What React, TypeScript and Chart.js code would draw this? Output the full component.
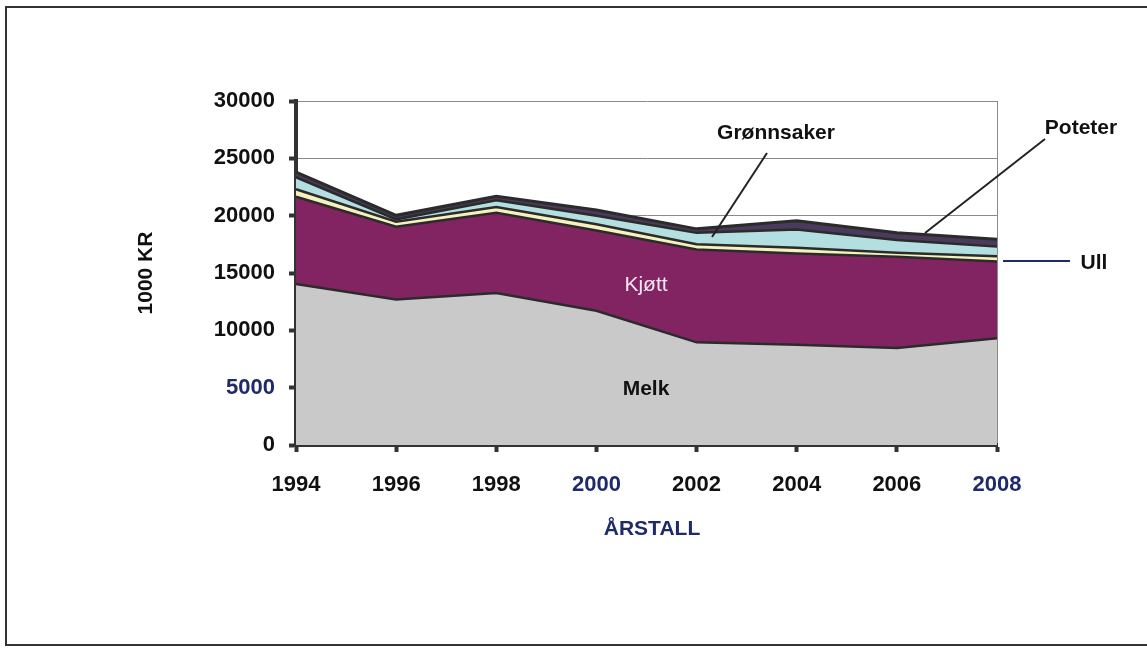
import React, { useEffect, useRef } from "react";
import { Chart, registerables } from "chart.js";

Chart.register(...registerables);

const years = ["1994", "1996", "1998", "2000", "2002", "2004", "2006", "2008"];
const melk = [14050, 12700, 13250, 11700, 8950, 8750, 8450, 9300];
const kjott = [7600, 6330, 7000, 7000, 8100, 7950, 7970, 6700];
const ull = [650, 450, 500, 550, 450, 500, 350, 450];
const gronnsaker = [1050, 200, 600, 750, 1000, 1600, 1100, 850];
const poteter = [450, 350, 350, 500, 350, 750, 650, 650];
const yTicks = [0, 5000, 10000, 15000, 20000, 25000, 30000];

const FONT = '"Liberation Sans", Arial, Helvetica, sans-serif';
const NAVY = "#1f2a6b";
const DARK = "#2b2b2b";

const annotations = {
  id: "annotations",
  afterDatasetsDraw(chart: any) {
    const c = chart.ctx;
    c.save();
    c.textAlign = "center";
    c.textBaseline = "middle";
    // Melk
    c.fillStyle = "#111";
    c.font = `bold 21px ${FONT}`;
    c.fillText("Melk", 646, 389);
    // Kjøtt
    c.fillStyle = "#f4e6f2";
    c.font = `21px ${FONT}`;
    c.fillText("Kjøtt", 646, 285);
    // Grønnsaker
    c.fillStyle = "#111";
    c.font = `bold 21px ${FONT}`;
    c.fillText("Grønnsaker", 776, 133);
    c.strokeStyle = "#222";
    c.lineWidth = 2;
    c.beginPath();
    c.moveTo(767, 153);
    c.lineTo(712, 237);
    c.stroke();
    // Poteter
    c.fillText("Poteter", 1081, 128);
    c.beginPath();
    c.moveTo(1045, 139);
    c.lineTo(925, 233);
    c.stroke();
    // Ull
    c.fillText("Ull", 1094, 263);
    c.strokeStyle = NAVY;
    c.beginPath();
    c.moveTo(1003, 261);
    c.lineTo(1070, 261);
    c.stroke();
    // axis titles
    c.fillStyle = "#111";
    c.font = `bold 21px ${FONT}`;
    c.save();
    c.translate(146, 273);
    c.rotate(-Math.PI / 2);
    c.fillText("1000 KR", 0, 0);
    c.restore();
    c.fillStyle = NAVY;
    c.font = `bold 21px ${FONT}`;
    c.fillText("ÅRSTALL", 652, 529);
    c.restore();
  },
};

export default function App() {
  const ref = useRef<HTMLCanvasElement | null>(null);
  useEffect(() => {
    if (!ref.current) return;
    const common = { pointRadius: 0, tension: 0, borderColor: DARK, borderWidth: 2.5 };
    const chart = new Chart(ref.current, {
      type: "line",
      data: {
        labels: years,
        datasets: [
          { ...common, label: "Melk", data: melk, backgroundColor: "#c9c9c9", fill: "origin" },
          { ...common, label: "Kjøtt", data: kjott, backgroundColor: "#832462", fill: "-1" },
          { ...common, label: "Ull", data: ull, backgroundColor: "#f6f1bd", fill: "-1" },
          { ...common, label: "Grønnsaker", data: gronnsaker, backgroundColor: "#b3dfe1", fill: "-1" },
          { ...common, label: "Poteter", data: poteter, backgroundColor: "#4a3a5c", fill: "-1", borderWidth: 3 },
        ],
      },
      options: {
        responsive: false,
        animation: false,
        devicePixelRatio: 1,
        layout: { padding: { left: 0, top: 101, right: 150, bottom: 0 } },
        plugins: { legend: { display: false }, tooltip: { enabled: false } },
        scales: {
          x: {
            type: "category",
            offset: false,
            afterFit: (s: any) => { s.height = 203; },
            border: { display: true, color: "#333", width: 4 },
            grid: {
              drawOnChartArea: true,
              color: (ctx: any) => (ctx.index === years.length - 1 ? "#8a8a8a" : "rgba(0,0,0,0)"),
              lineWidth: 1,
              tickColor: "#333",
              tickWidth: 4,
              tickLength: 7,
            },
            ticks: {
              maxRotation: 0,
              autoSkip: false,
              padding: 20,
              font: { family: FONT, size: 22, weight: "bold" },
              color: (ctx: any) => (ctx.index === 3 || ctx.index === 7 ? NAVY : "#111"),
            },
          },
          y: {
            stacked: true,
            min: yTicks[0],
            max: yTicks[yTicks.length - 1],
            afterFit: (s: any) => { s.width = 296; },
            afterBuildTicks: (s: any) => { s.ticks = yTicks.map((v) => ({ value: v })); },
            border: { display: true, color: "#333", width: 4 },
            grid: {
              color: "#8a8a8a",
              lineWidth: 1,
              tickColor: "#333",
              tickWidth: 4,
              tickLength: 7,
            },
            ticks: {
              padding: 14,
              font: { family: FONT, size: 22, weight: "bold" },
              color: (ctx: any) => (ctx.index === 1 ? NAVY : "#111"),
              callback: (v: any) => String(v),
            },
          },
        },
      },
      plugins: [annotations],
    } as any);
    return () => chart.destroy();
  }, []);

  return (
    <div style={{ position: "absolute", left: 0, top: 0, width: 1147, height: 648, overflow: "hidden", background: "#fff" }}>
      <div
        style={{
          position: "absolute",
          left: 5,
          top: 6,
          width: 1160,
          height: 640,
          border: "2px solid #333",
          boxSizing: "border-box",
        }}
      />
      <canvas
        ref={ref}
        width={1147}
        height={648}
        style={{ position: "absolute", left: 0, top: 0, width: 1147, height: 648 }}
      />
    </div>
  );
}
